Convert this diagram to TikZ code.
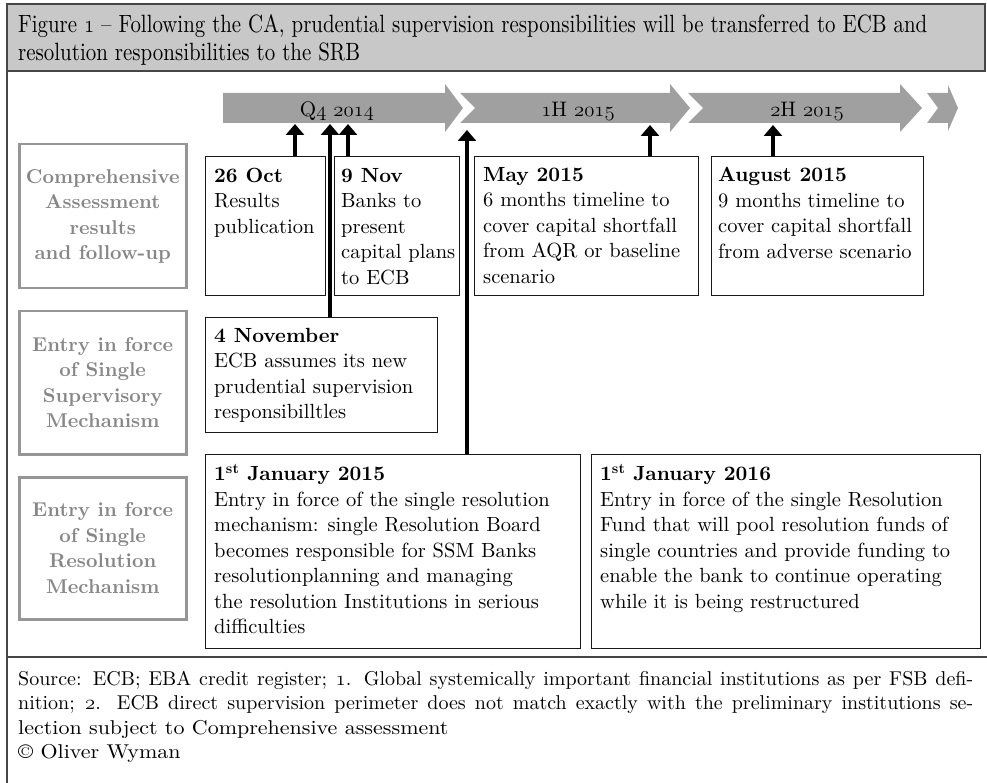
\documentclass[tikz,border=0pt]{standalone}
\usepackage{graphicx}
\usepackage{fontspec}
\setmainfont{lmroman10-regular.otf}[BoldFont=lmroman10-bold.otf, ItalicFont=lmroman10-italic.otf]
\usetikzlibrary{arrows.meta,calc}
\definecolor{bandgray}{RGB}{200,200,200}
\definecolor{framegray}{RGB}{70,70,70}
\definecolor{chevgray}{RGB}{160,160,160}
\definecolor{labelgray}{RGB}{135,135,135}
\definecolor{labelborder}{RGB}{150,150,150}
\newcommand\osn[1]{\ensuremath{\mathnormal{#1}}}
\begin{document}
\begin{tikzpicture}[x=1pt,y=-1pt,
  evbox/.style={draw=black!90, line width=1.3pt, anchor=north west, inner sep=0pt},
  evtext/.style={anchor=north west, align=left, inner sep=0pt, font=\fontsize{20.5}{25.5}\selectfont},
  lblbox/.style={draw=labelborder, line width=2.5pt, anchor=north west, inner sep=0pt},
  lbltext/.style={align=center, inner sep=0pt, text=labelgray, font=\fontsize{20}{25.5}\selectfont\bfseries},
  chev/.style={fill=chevgray, draw=none},
  conn/.style={line width=3.5pt, -{Triangle[width=18pt,length=11pt]}},
  chevlabel/.style={anchor=base, inner sep=0pt, font=\fontsize{21}{24}\selectfont},
  fnline/.style={anchor=base west, inner sep=0pt, font=\fontsize{20}{24}\selectfont},
  titleline/.style={anchor=base west, inner sep=0pt, font=\fontsize{25}{28}\selectfont},
]
\useasboundingbox (0,0) rectangle (987,783);
% frame and title band
\fill[bandgray] (7,4) rectangle (985,71);
\draw[framegray, line width=2pt] (7,4) rectangle (985,71);
\draw[framegray, line width=2pt] (7,71) -- (7,783);
\draw[framegray, line width=2pt] (7,657) -- (987,657);
\node[titleline] (title1) at (18,33) {\resizebox{909pt}{\height}{Figure \osn{1} -- Following the CA, prudential supervision responsibilities will be transferred to ECB and}};
\node[titleline] (title2) at (18,61) {\resizebox{342pt}{\height}{resolution responsibilities to the SRB}};
% chevrons
\fill[chev] (223,93) -- (445,93) -- (445,84) -- (463,108) -- (445,132) -- (445,123) -- (223,123) -- cycle;
\fill[chev] (460,93) -- (670,93) -- (670,84) -- (690,108) -- (670,132) -- (670,123) -- (460,123) -- (475,108) -- cycle;
\fill[chev] (688,93) -- (900,93) -- (900,84) -- (922,108) -- (900,132) -- (900,123) -- (688,123) -- (703,108) -- cycle;
\fill[chev] (927,93) -- (948,93) -- (948,85) -- (958,108) -- (948,131) -- (948,123) -- (927,123) -- (938,108) -- cycle;
\node[chevlabel] (q4) at (337,117) {Q\osn{4} \osn{2014}};
\node[chevlabel] (h1) at (578,117) {\osn{1}H \osn{2015}};
\node[chevlabel] (h2) at (807,117) {\osn{2}H \osn{2015}};
% label boxes
\node[lblbox, minimum width=167pt, minimum height=144pt] (l1) at (18,143) {};
\node[lblbox, minimum width=167pt, minimum height=143pt] (l2) at (18,310) {};
\node[lblbox, minimum width=167pt, minimum height=142pt] (l3) at (18,476) {};
\node[lbltext] (l1t) at (l1.center) {Comprehensive\\Assessment\\results\\and follow-up};
\node[lbltext] (l2t) at (l2.center) {Entry in force\\of Single\\Supervisory\\Mechanism};
\node[lbltext] (l3t) at (l3.center) {Entry in force\\of Single\\Resolution\\Mechanism};
% event boxes
\node[evbox, minimum width=120pt, minimum height=139pt] (b26) at (205,156) {};
\node[evbox, minimum width=125pt, minimum height=139pt] (b9) at (334,156) {};
\node[evbox, minimum width=224pt, minimum height=139pt] (bmay) at (474,156) {};
\node[evbox, minimum width=212pt, minimum height=139pt] (baug) at (711,156) {};
\node[evbox, minimum width=232pt, minimum height=115pt] (b4n) at (205,317) {};
\node[evbox, minimum width=375pt, minimum height=194pt] (bj15) at (205,454) {};
\node[evbox, minimum width=389pt, minimum height=194pt] (bj16) at (591,454) {};
\node[evtext] (t26) at ($(b26.north west)+(9,12)$) {\textbf{26 Oct}\\Results\\publication};
\node[evtext] (t9) at ($(b9.north west)+(7,12)$) {\textbf{9 Nov}\\Banks to\\present\\capital plans\\to ECB};
\node[evtext] (tmay) at ($(bmay.north west)+(9,11)$) {\textbf{May 2015}\\6 months timeline to\\cover capital shortfall\\from AQR or baseline\\scenario};
\node[evtext] (taug) at ($(baug.north west)+(7,11)$) {\textbf{August 2015}\\9 months timeline to\\cover capital shortfall\\from adverse scenario};
\node[evtext] (t4n) at ($(b4n.north west)+(9,11)$) {\textbf{4 November}\\ECB assumes its new\\prudential supervision\\responsibilltles};
\node[evtext] (tj15) at ($(bj15.north west)+(9,10)$) {\textbf{1\textsuperscript{st} January 2015}\\Entry in force of the single resolution\\mechanism: single Resolution Board\\becomes responsible for SSM Banks\\resolutionplanning and managing\\the resolution Institutions in serious\\difficulties};
\node[evtext] (tj16) at ($(bj16.north west)+(9,10)$) {\textbf{1\textsuperscript{st} January 2016}\\Entry in force of the single Resolution\\Fund that will pool resolution funds of\\single countries and provide funding to\\enable the bank to continue operating\\while it is being restructured};
% connectors
\coordinate (tip26) at (295,124);
\coordinate (tip4n) at (330,124);
\coordinate (tip9) at (348,124);
\coordinate (tipj15) at (467,130);
\coordinate (tipmay) at (650,125);
\coordinate (tipaug) at (773,125);
\draw[conn] (tip26 |- b26.north) -- (tip26);
\draw[conn] (tip4n |- b4n.north) -- (tip4n);
\draw[conn] (tip9 |- b9.north) -- (tip9);
\draw[conn] (tipj15 |- bj15.north) -- (tipj15);
\draw[conn] (tipmay |- bmay.north) -- (tipmay);
\draw[conn] (tipaug |- baug.north) -- (tipaug);
% footnote
\node[fnline] (fn1) at (18,685) {\makebox[955pt][s]{Source: ECB; EBA credit register; \osn{1}. Global systemically important financial institutions as per FSB defi-}};
\node[fnline] (fn2) at (18,709) {\makebox[955pt][s]{nition; \osn{2}. ECB direct supervision perimeter does not match exactly with the preliminary institutions se-}};
\node[fnline] (fn3) at (18,734) {\scalebox{1.1}[1]{lection subject to Comprehensive assessment}};
\node[fnline] (fn4) at (18,758) {\scalebox{1.1}[1]{\textcopyright{} Oliver Wyman}};
\end{tikzpicture}
\end{document}
